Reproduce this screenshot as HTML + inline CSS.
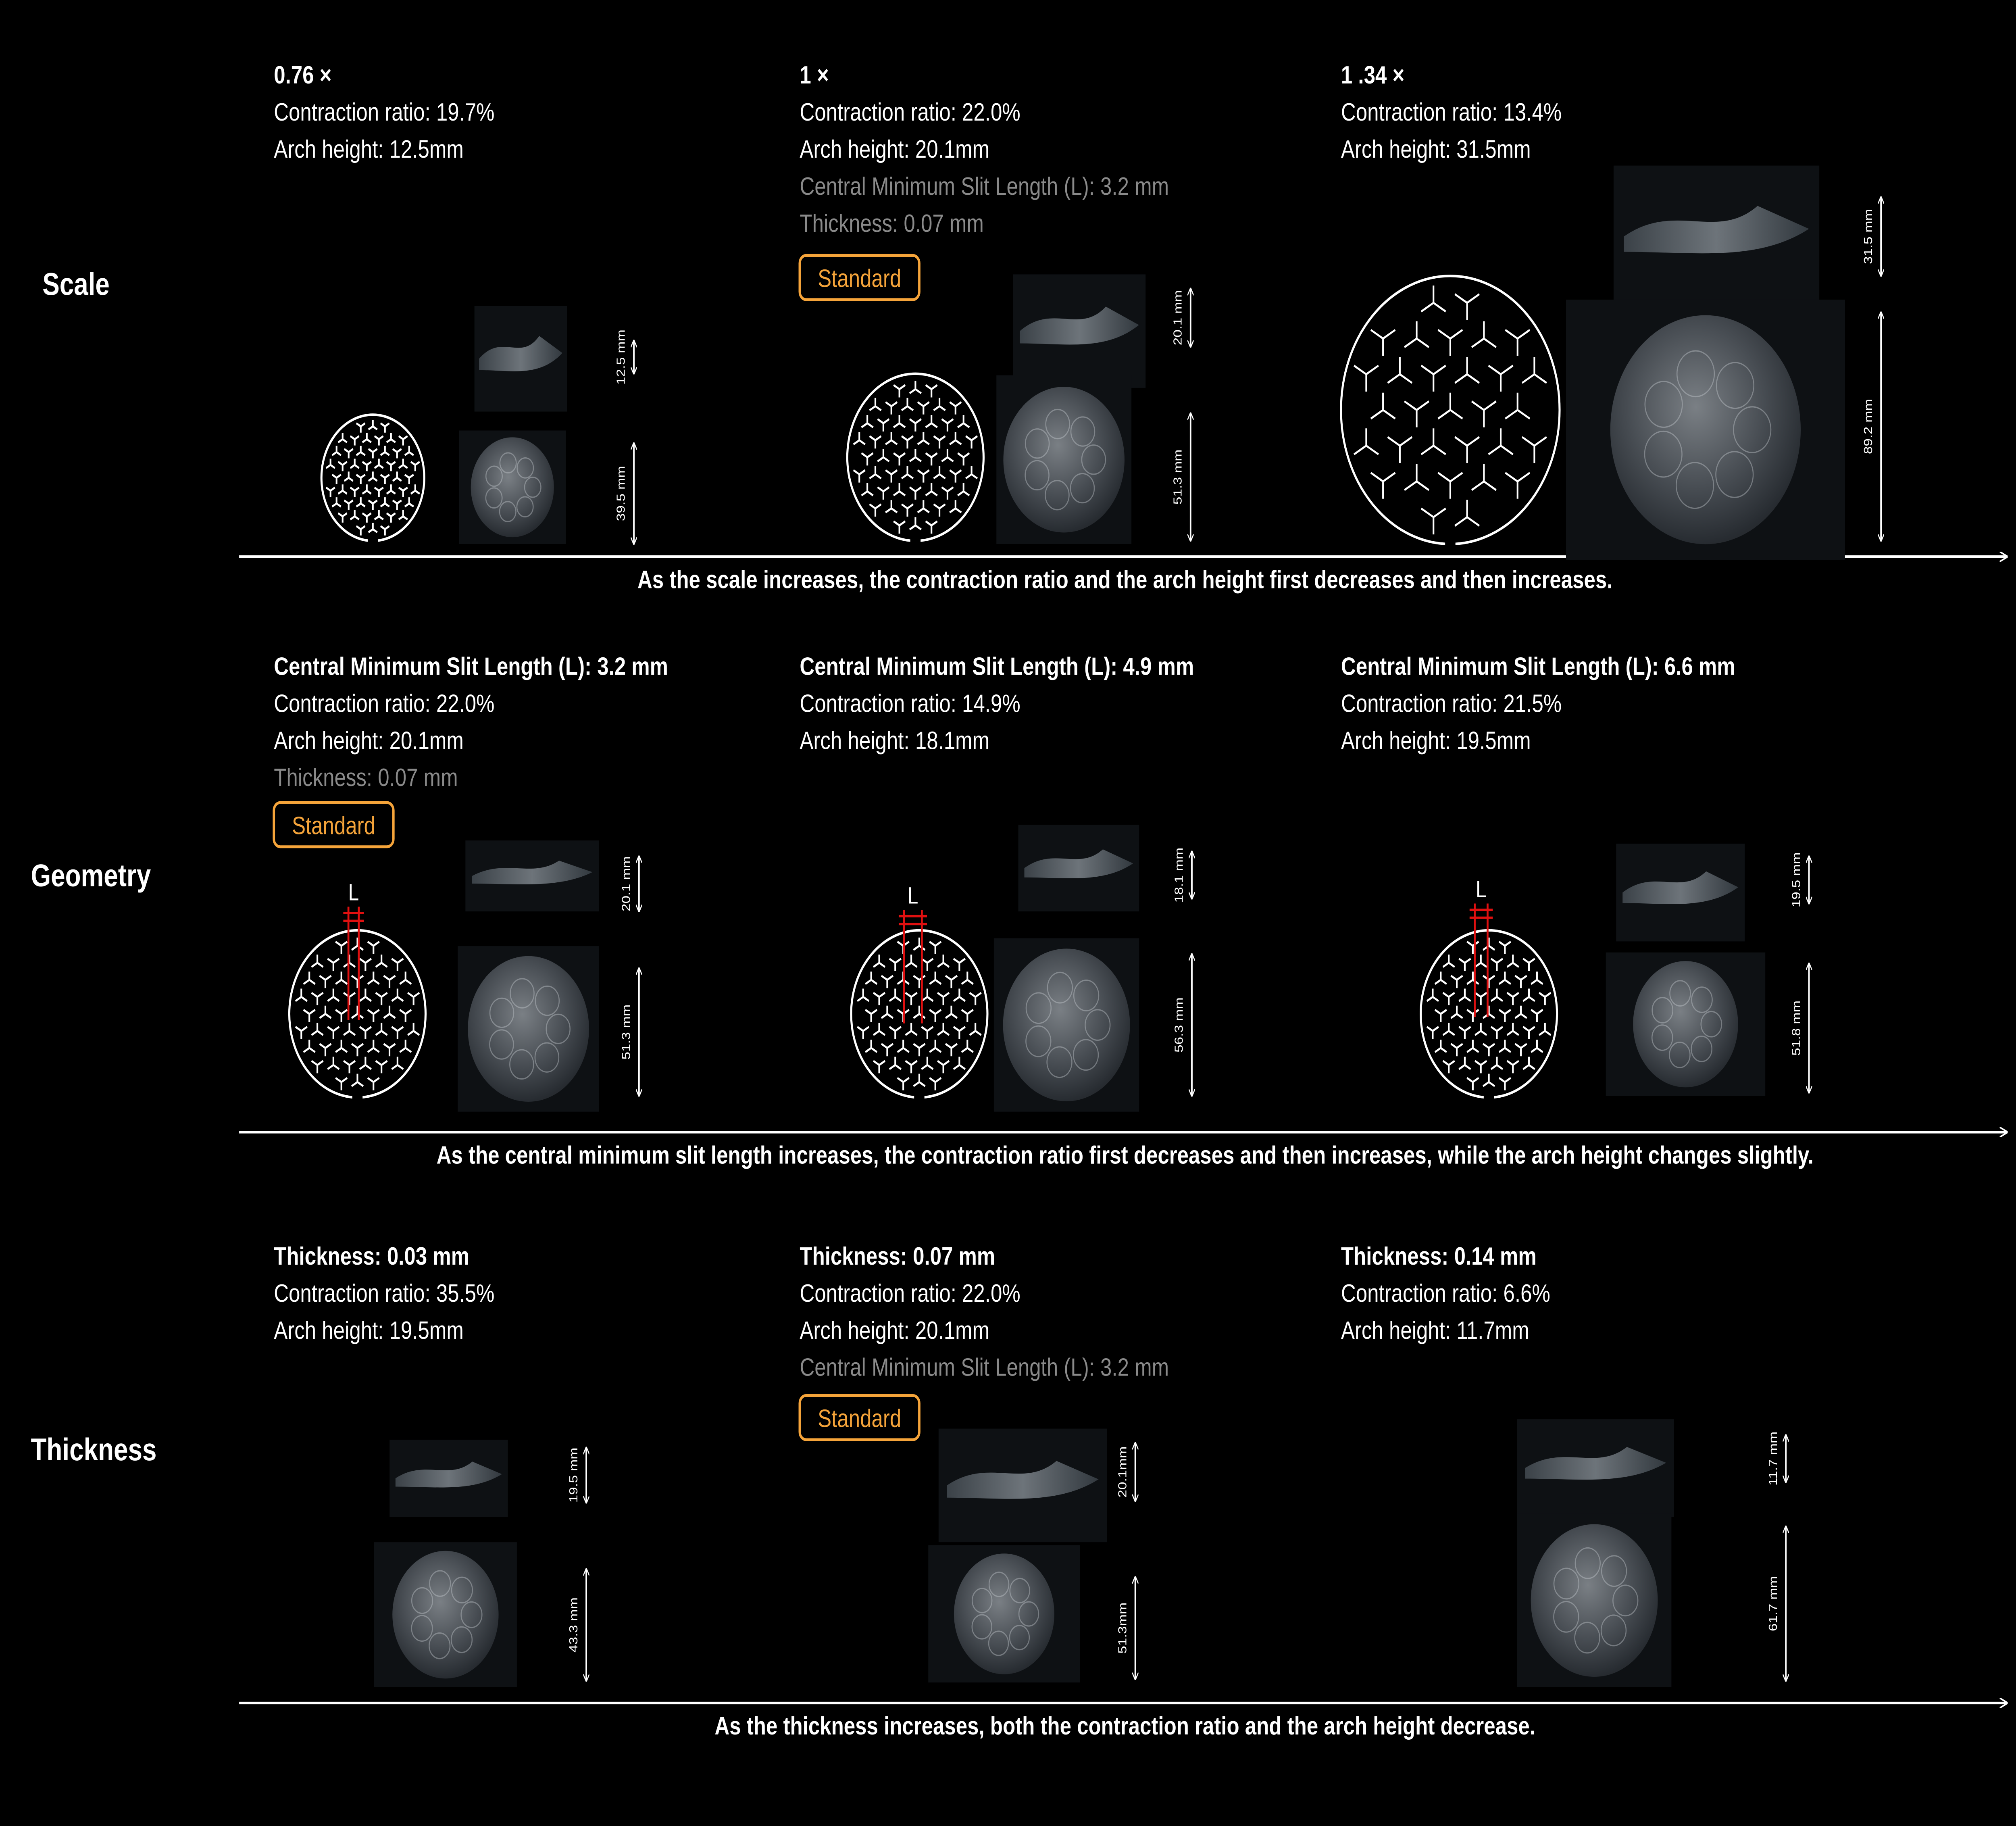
<!DOCTYPE html>
<html><head><meta charset="utf-8">
<style>
html,body{margin:0;padding:0;background:#000;width:100%;height:100%;overflow:hidden;}
svg{display:block;position:fixed;left:0;top:0;width:100vw;height:100vh;}
text{font-family:"Liberation Sans",sans-serif;}
</style></head>
<body>
<svg id="c" viewBox="0 0 1568 1158" preserveAspectRatio="none" xmlns="http://www.w3.org/2000/svg">
<defs>
<radialGradient id="blob" cx="45%" cy="40%" r="60%">
<stop offset="0" stop-color="#9ea4aa"/><stop offset="0.6" stop-color="#5a6067"/><stop offset="1" stop-color="#2f343a"/>
</radialGradient>
<linearGradient id="side" x1="0" x2="1"><stop offset="0" stop-color="#4a5259"/><stop offset="0.5" stop-color="#8d959c"/><stop offset="1" stop-color="#3e464d"/></linearGradient>
<marker id="ah" viewBox="0 0 10 10" refX="9" refY="5" markerWidth="4" markerHeight="4" orient="auto-start-reverse"><path d="M0,0 L10,5 L0,10" fill="none" stroke="#fff" stroke-width="1.6"/></marker>
</defs>
</svg>
<script>
const NS="http://www.w3.org/2000/svg";
const svg=document.getElementById('c');
function mk(tag,attrs,parent){const e=document.createElementNS(NS,tag);for(const k in attrs)e.setAttribute(k,attrs[k]);(parent||svg).appendChild(e);return e;}
function txt(x,y,s,size,weight,fill,anchor,name){const t=mk('text',{x:x,y:y,'font-size':size,'font-weight':weight||'normal','text-anchor':anchor||'start'});t.style.fill=fill||'#fff';t.textContent=s;


return t;}

const rowLabels=["Scale","Geometry","Thickness"];
const rowLabelPos=[[33,187],[24,562],[24,926]];
const arrowY=[353,718,1080];
const captions=["As the scale increases, the contraction ratio and the arch height first decreases and then increases.",
"As the central minimum slit length increases, the contraction ratio first decreases and then increases, while the arch height changes slightly.",
"As the thickness increases, both the contraction ratio and the arch height decrease."];
const colX=[213,622,1043];
const rowTextY=[53,428,802];
const panelText=[
 [[["0.76 ×","b"],["Contraction ratio: 19.7%","n"],["Arch height: 12.5mm","n"]],
  [["1 ×","b"],["Contraction ratio: 22.0%","n"],["Arch height:  20.1mm","n"],["Central Minimum Slit Length (L): 3.2 mm","g"],["Thickness: 0.07 mm","g"]],
  [["1 .34 ×","b"],["Contraction ratio: 13.4%","n"],["Arch height: 31.5mm","n"]]],
 [[["Central Minimum Slit Length (L): 3.2 mm","b"],["Contraction ratio: 22.0%","n"],["Arch height: 20.1mm","n"],["Thickness: 0.07 mm","g"]],
  [["Central Minimum Slit Length (L): 4.9 mm","b"],["Contraction ratio: 14.9%","n"],["Arch height:  18.1mm","n"]],
  [["Central Minimum Slit Length (L): 6.6 mm","b"],["Contraction ratio: 21.5%","n"],["Arch height: 19.5mm","n"]]],
 [[["Thickness: 0.03 mm","b"],["Contraction ratio: 35.5%","n"],["Arch height: 19.5mm","n"]],
  [["Thickness: 0.07 mm","b"],["Contraction ratio: 22.0%","n"],["Arch height: 20.1mm","n"],["Central Minimum Slit Length (L): 3.2 mm","g"]],
  [["Thickness: 0.14 mm","b"],["Contraction ratio: 6.6%","n"],["Arch height: 11.7mm","n"]]]
];
const standardBoxes=[[622,162],[213,509],[622,885]];
const patterns=[[290,303,40,4],[712,290,53,4],[1128,260,85,3],[278,643,53,4],[715,643,53,4],[1158,643,53,4]];
const lMarks=[[275,565,8],[710,567,14],[1152,563,10]];
const photos=[
 [369,194,72,67,'s'],[357,273,83,72,'c'],
 [788,174,103,72,'s'],[775,238,105,107,'c'],
 [1255,105,160,90,'s'],[1218,190,217,165,'c'],
 [362,533,104,45,'s'],[356,600,110,105,'c'],
 [792,523,94,55,'s'],[773,595,113,110,'c'],
 [1257,535,100,62,'s'],[1249,604,124,91,'c'],
 [303,913,92,49,'s'],[291,978,111,92,'c'],
 [730,906,131,72,'s'],[722,980,118,87,'c'],
 [1180,900,122,62,'s'],[1180,960,120,110,'c']];
const dims=[
 [493,216,237,"12.5 mm"],[493,281,345,"39.5 mm"],
 [926,183,220,"20.1 mm"],[926,262,343,"51.3 mm"],
 [1463,125,175,"31.5 mm"],[1463,198,343,"89.2 mm"],
 [497,543,578,"20.1 mm"],[497,614,695,"51.3 mm"],
 [927,540,570,"18.1 mm"],[927,605,695,"56.3 mm"],
 [1407,543,573,"19.5 mm"],[1407,611,693,"51.8 mm"],
 [456,918,953,"19.5 mm"],[456,995,1066,"43.3 mm"],
 [883,915,952,"20.1mm"],[883,1000,1065,"51.3mm"],
 [1389,910,940,"11.7 mm"],[1389,968,1066,"61.7 mm"]];

rowLabels.forEach((s,i)=>txt(rowLabelPos[i][0],rowLabelPos[i][1],s,20,'bold','#fff','start','row-label-'+s.toLowerCase()));
arrowY.forEach((y,i)=>{
 const l=mk('line',{x1:186,y1:y,x2:1561,y2:y,stroke:'#fff','stroke-width':1.6,'marker-end':'url(#ah)'});
 
 
 txt(875,y+20,captions[i],16,'bold','#fff','middle','trend-caption-'+(i+1));
});
panelText.forEach((row,r)=>row.forEach((lines,c)=>lines.forEach((ln,k)=>{
 const st=ln[1];
 txt(colX[c],rowTextY[r]+k*23.5,ln[0],16,st==='b'?'bold':'normal',st==='g'?'#8a8a8a':'#fff','start','panel-text-r'+(r+1)+'c'+(c+1)+'-'+(k+1));
})));
standardBoxes.forEach((b,i)=>{
 const r=mk('rect',{x:b[0],y:b[1],width:93,height:28,rx:5,fill:'none',stroke:'#f5a43a','stroke-width':1.8});
 
 
 txt(b[0]+46.5,b[1]+20,'Standard',16,'normal','#f5a43a','middle','standard-label-'+(i+1));
});
patterns.forEach((p,i)=>{
 const [cx,cy,R,n]=p;
 const g=mk('g',{});
 
 
 mk('circle',{cx:cx,cy:cy,r:R,fill:'none',stroke:'#fff','stroke-width':1.6},g);
 const step=R*2/(n*2+0.5), arm=step*0.42;
 for(let a=-n;a<=n;a++)for(let b=-n;b<=n;b++){
  const x=cx+(a+b*0.5)*step, y=cy+b*step*0.866;
  if(Math.hypot(x-cx,y-cy)>R-arm*1.4)continue;
  const rot=((a+b)%2===0)?-90:90;
  let d='';
  for(let k=0;k<3;k++){const ang=(rot+k*120)*Math.PI/180;d+=`M${x},${y}L${x+arm*Math.cos(ang)},${y+arm*Math.sin(ang)}`;}
  mk('path',{d:d,stroke:'#fff','stroke-width':1.3,fill:'none'},g);
 }
 mk('rect',{x:cx-4,y:cy+R-3,width:8,height:6,fill:'#000'},g);
});
lMarks.forEach((m,i)=>{
 const [x,y,w]=m;
 const g=mk('g',{});
 
 
 txt(x,y+6,'L',15,'normal','#fff','middle','l-label-'+(i+1));
 mk('line',{x1:x-w/2,y1:y+10,x2:x-w/2,y2:y+82,stroke:'#e01010','stroke-width':1.5},g);
 mk('line',{x1:x+w/2,y1:y+10,x2:x+w/2,y2:y+82,stroke:'#e01010','stroke-width':1.5},g);
 mk('line',{x1:x-w/2-4,y1:y+14,x2:x+w/2+4,y2:y+14,stroke:'#e01010','stroke-width':1.5},g);
 mk('line',{x1:x-w/2-4,y1:y+19,x2:x+w/2+4,y2:y+19,stroke:'#e01010','stroke-width':1.5},g);
});
photos.forEach((p,i)=>{
 const [x,y,w,h,t]=p;
 const g=mk('g',{});
 
 
 mk('rect',{x:x,y:y,width:w,height:h,fill:'#0e1114'},g);
 if(t==='s'){
  const cy=y+h*0.5, a=h*0.18;
  mk('path',{d:`M${x+w*0.05},${cy} C${x+w*0.3},${cy-a*1.4} ${x+w*0.5},${cy+a*0.2} ${x+w*0.7},${cy-a*1.2} L${x+w*0.95},${cy-a*0.3} C${x+w*0.7},${cy+a} ${x+w*0.4},${cy+a*0.6} ${x+w*0.05},${cy+a*0.6}Z`,fill:'url(#side)',opacity:0.75},g);
 } else {
  const cx=x+w/2, cy=y+h/2, r=Math.min(w,h)*0.44;
  mk('ellipse',{cx:cx,cy:cy,rx:r*1.02,ry:r,fill:'url(#blob)',opacity:0.75},g);
  for(let k=0;k<7;k++){const ang=k*0.9;mk('circle',{cx:cx+Math.cos(ang)*r*0.5,cy:cy+Math.sin(ang)*r*0.5,r:r*0.2,fill:'none',stroke:'#c8cdd2','stroke-width':0.8,opacity:0.4},g);}
 }
});
dims.forEach((d,i)=>{
 const [x,y1,y2,s]=d;
 const l=mk('line',{x1:x,y1:y1,x2:x,y2:y2,stroke:'#fff','stroke-width':1.2,'marker-start':'url(#ah)','marker-end':'url(#ah)'});
 
 
 const t=txt(x-10,(y1+y2)/2,s,9,'normal','#fff','middle','dimension-label-'+(i+1));
 t.setAttribute('transform',`rotate(-90 ${x-10} ${(y1+y2)/2})`);
 t.setAttribute('dy','3');
});
</script>
</body></html>
